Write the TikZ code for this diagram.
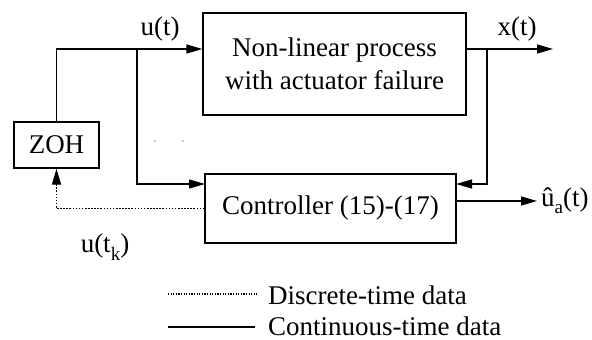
\documentclass[tikz,border=0pt]{standalone}
\usepackage{fontspec}
\setmainfont{Liberation Serif}
\usetikzlibrary{arrows.meta}
\begin{document}
\begin{tikzpicture}[x=1pt,y=-1pt,
  every node/.style={font=\fontsize{27}{33}\selectfont},
  blk/.style={draw,line width=1.3pt,minimum width=#1,inner sep=0pt},
  sig/.style={line width=1.3pt,-{Triangle[length=16pt,width=9pt]}},
  wire/.style={line width=1.3pt},
  dots/.style={line width=1.7pt,dash pattern=on 1.6pt off 1.5pt},
  lbl/.style={inner sep=0pt}]
\useasboundingbox (0,0) rectangle (592,340);
% blocks
\node[blk=263pt,minimum height=102pt,align=center] (proc) at (334.5,64) {Non-linear process\\with actuator failure};
\node[blk=85pt,minimum height=46pt] (zoh) at (56.5,145) {ZOH};
\node[blk=251pt,minimum height=69pt] (ctrl) at (330.5,208.5) {Controller (15)-(17)};
% coordinates
\coordinate (ju) at (137,49);
\coordinate (jx) at (487,49);
\coordinate (xo) at (553,49);
\coordinate (cin) at (205,184);
\coordinate (cfb) at (456,184);
\coordinate (cout) at (537,201);
% connectors
\draw[wire] (zoh.north) |- (ju);
\draw[sig] (ju) -- (proc.west |- ju);
\draw[sig] (ju) |- (cin);
\draw[sig] (proc.east |- jx) -- (xo);
\draw[sig] (jx) |- (cfb);
\draw[sig] (ctrl.east |- cout) -- (cout);
\draw[dots] (ctrl.west) -| ([yshift=-14pt]zoh.south);
\draw[sig] ([yshift=-15pt]zoh.south) -- (zoh.south);
% labels
\node[lbl] (lu) at (160,29) {u(t)};
\node[lbl] (lx) at (517,29) {x(t)};
\node[lbl,anchor=west] (lua) at (541,201) {\^{u}\raisebox{-7pt}{\fontsize{19}{19}\selectfont a}(t)};
\node[lbl] (luk) at (105,247) {u(t\raisebox{-8pt}{\fontsize{19}{19}\selectfont k})};
% stray dots
\fill (155,141) circle (0.6pt);
\fill (183,141) circle (0.6pt);
% legend
\coordinate (d1) at (168,294); \coordinate (d2) at (257,294);
\coordinate (c1) at (168,327); \coordinate (c2) at (255,327);
\draw[line width=1.3pt,dash pattern=on 1.2pt off 1.4pt] (d1) -- (d2);
\draw[wire] (c1) -- (c2);
\node[lbl,anchor=west] (ld) at (268,295) {Discrete-time data};
\node[lbl,anchor=west] (lc) at (268,326) {Continuous-time data};
\end{tikzpicture}
\end{document}
